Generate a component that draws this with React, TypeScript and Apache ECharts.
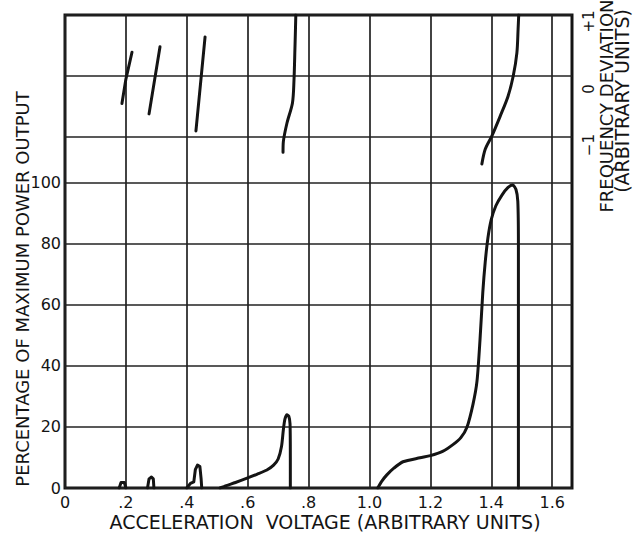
import React, { useEffect, useRef } from 'react';
import * as echarts from 'echarts';

// ---- axis ticks / labels ----
const xTickValues = [0, 0.2, 0.4, 0.6, 0.8, 1.0, 1.2, 1.4, 1.6];
const xTickLabels = ['0', '.2', '.4', '.6', '.8', '1.0', '1.2', '1.4', '1.6'];
const xMax = 1.665;

const powerTickValues = [0, 20, 40, 60, 80, 100];
const powerTickLabels = ['0', '20', '40', '60', '80', '100'];

const freqTickValues = [-1, 0, 1];
const freqTickLabels = ['\u22121', '0', '+1'];
// frequency axis placement relative to the power axis: f = (p - freqZeroAt) / freqUnit
const freqZeroAt = 135;
const freqUnit = 20;

// ---- power output (% of maximum) vs acceleration voltage ----
const power1 = [[0.178, 0], [0.184, 1.8], [0.195, 1.8], [0.2, 0]];
const power2 = [[0.271, 0], [0.276, 3], [0.284, 3.6], [0.29, 3], [0.292, 0]];
const power3 = [[0.4, 0], [0.412, 1.5], [0.423, 2], [0.428, 6], [0.435, 7.5], [0.443, 7], [0.447, 3], [0.449, 0]];
const power4 = [
  [0.509, 0], [0.53, 0.8], [0.56, 1.8], [0.6, 3.3], [0.63, 4.5], [0.663, 5.9], [0.685, 7.5],
  [0.7, 9.5], [0.711, 13.6], [0.717, 19], [0.722, 22.5], [0.729, 24], [0.735, 23.5], [0.739, 21],
  [0.74, 10], [0.74, 0],
];
const power5 = [
  [1.027, 0], [1.04, 2.2], [1.057, 4.3], [1.08, 6.5], [1.11, 8.6], [1.166, 9.9], [1.2, 10.6],
  [1.24, 12], [1.274, 14.2], [1.3, 16.5], [1.32, 19.9], [1.34, 27.5], [1.353, 35], [1.363, 48.7],
  [1.372, 64], [1.38, 74], [1.389, 82], [1.4, 88], [1.415, 92.5], [1.435, 96], [1.455, 98.5],
  [1.47, 99.3], [1.481, 97.8], [1.487, 94], [1.489, 80], [1.489, 0],
];

// ---- frequency deviation (arbitrary units) ----
const freq1 = [[0.187, -0.45], [0.2, -0.05], [0.22, 0.39]];
const freq2 = [[0.276, -0.62], [0.312, 0.48]];
const freq3 = [[0.43, -0.9], [0.46, 0.64]];
const freq4 = [
  [0.716, -1.25], [0.717, -1.08], [0.729, -0.77], [0.747, -0.44], [0.752, -0.07],
  [0.755, 0.43], [0.757, 0.8], [0.758, 1],
];
const freq5 = [
  [1.369, -1.44], [1.38, -1.2], [1.402, -0.98], [1.429, -0.66], [1.455, -0.33], [1.472, 0],
  [1.484, 0.38], [1.488, 0.77], [1.49, 1],
];

const powerSegments = [power1, power2, power3, power4, power5];
const freqSegments = [freq1, freq2, freq3, freq4, freq5];

const INK = '#141414';
const FONT = 'DejaVu Sans';

function indexOfValue(values: number[], v: number) {
  for (let i = 0; i < values.length; i++) {
    if (Math.abs(values[i] - v) < 1e-6) return i;
  }
  return -1;
}

function labelFor(values: number[], labels: string[], v: number) {
  const i = indexOfValue(values, v);
  return i < 0 ? '' : labels[i];
}

export default function App() {
  const ref = useRef<HTMLDivElement>(null);

  useEffect(() => {
    if (!ref.current) return;
    const chart = echarts.init(ref.current, null, { renderer: 'svg' });

    const powerMax = freqZeroAt + freqUnit * 1;
    const freqMin = (0 - freqZeroAt) / freqUnit;
    const gridPowerValues = powerTickValues.concat(freqTickValues.map((f) => freqZeroAt + freqUnit * f));

    const lineStyle = { color: INK, width: 3, cap: 'round', join: 'round' };

    const series: any[] = [];
    powerSegments.forEach((seg, i) => {
      series.push({
        type: 'line',
        name: 'power' + i,
        xAxisIndex: 0,
        yAxisIndex: 0,
        data: seg,
        symbol: 'none',
        smooth: i >= 3 ? 0.25 : false,
        lineStyle,
        z: 5,
      });
    });
    freqSegments.forEach((seg, i) => {
      series.push({
        type: 'line',
        name: 'freq' + i,
        xAxisIndex: 0,
        yAxisIndex: 1,
        data: seg,
        symbol: 'none',
        smooth: i >= 3 ? 0.3 : false,
        lineStyle,
        z: 5,
      });
    });

    const richBase = { color: INK, fontFamily: FONT, fontSize: 15 };

    chart.setOption({
      animation: false,
      backgroundColor: '#ffffff',
      grid: {
        left: 65,
        right: 70,
        top: 15,
        bottom: 45,
        show: true,
        borderColor: INK,
        borderWidth: 3,
        backgroundColor: 'transparent',
        outerBoundsMode: 'none',
        containLabel: false,
      },
      xAxis: {
        type: 'value',
        min: 0,
        max: xMax,
        interval: 0.2,
        axisLine: { show: false },
        axisTick: { show: false, customValues: xTickValues },
        splitLine: { show: true, lineStyle: { color: '#222', width: 1.7 } },
        axisLabel: {
          customValues: xTickValues,
          formatter: (v: number) => labelFor(xTickValues, xTickLabels, v),
          color: INK,
          fontFamily: FONT,
          fontSize: 16,
          margin: 6,
        },
      },
      yAxis: [
        {
          type: 'value',
          min: 0,
          max: powerMax,
          position: 'left',
          axisLine: { show: false },
          axisTick: { show: false, customValues: gridPowerValues },
          splitLine: { show: true, lineStyle: { color: '#222', width: 1.7 } },
          axisLabel: {
            customValues: powerTickValues,
            formatter: (v: number) => labelFor(powerTickValues, powerTickLabels, v),
            color: INK,
            fontFamily: FONT,
            fontSize: 16,
            margin: 4,
          },
        },
        {
          type: 'value',
          min: freqMin,
          max: 1,
          position: 'right',
          axisLine: { show: false },
          axisTick: { show: false, customValues: freqTickValues },
          splitLine: { show: false },
          axisLabel: {
            customValues: freqTickValues,
            formatter: (v: number) => {
              const i = indexOfValue(freqTickValues, v);
              return i < 0 ? '' : `{f${i}|${freqTickLabels[i]}}`;
            },
            color: INK,
            fontFamily: FONT,
            fontSize: 15,
            margin: 9,
            rotate: 90,
            rich: {
              f0: { ...richBase, padding: [0, 16, 0, 0] },
              f1: { ...richBase, padding: [0, 26, 0, 0] },
              f2: { ...richBase, padding: [0, 13, 0, 0] },
            },
          },
        },
      ],
      graphic: [
        {
          type: 'text',
          x: 22,
          y: 289,
          rotation: Math.PI / 2,
          style: {
            text: 'PERCENTAGE OF MAXIMUM POWER OUTPUT',
            fill: INK,
            font: `18px "${FONT}"`,
            align: 'center',
            verticalAlign: 'middle',
          },
        },
        {
          type: 'text',
          x: 606,
          y: 106,
          rotation: Math.PI / 2,
          style: {
            text: 'FREQUENCY DEVIATION',
            fill: INK,
            font: `18px "${FONT}"`,
            align: 'center',
            verticalAlign: 'middle',
          },
        },
        {
          type: 'text',
          x: 622,
          y: 101,
          rotation: Math.PI / 2,
          style: {
            text: '(ARBITRARY UNITS)',
            fill: INK,
            font: `19px "${FONT}"`,
            align: 'center',
            verticalAlign: 'middle',
          },
        },
        {
          type: 'text',
          x: 325,
          y: 522,
          style: {
            text: 'ACCELERATION  VOLTAGE (ARBITRARY UNITS)',
            fill: INK,
            font: `19px "${FONT}"`,
            align: 'center',
            verticalAlign: 'middle',
          },
        },
      ],
      series,
    });

    return () => {
      chart.dispose();
    };
  }, []);

  return (
    <div
      ref={ref}
      style={{ position: 'fixed', left: 0, top: 0, width: 642, height: 533, background: '#fff' }}
    />
  );
}
